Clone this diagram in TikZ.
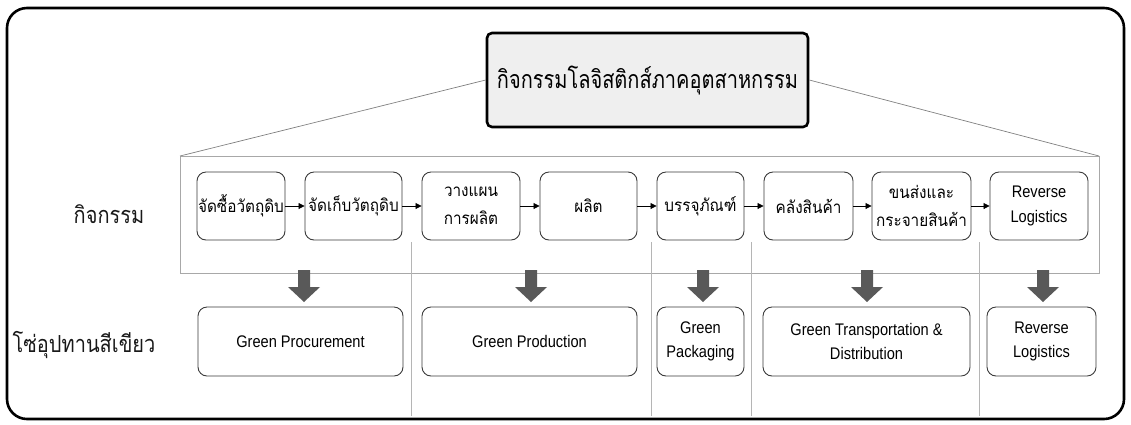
\documentclass[tikz,border=0pt]{standalone}
\usepackage{fontspec}
\setmainfont{Liberation Sans}[FakeStretch=0.87]
\newfontfamily\thai[Script=Thai,FakeStretch=0.9]{Loma}
\newfontfamily\thaititle[Script=Thai,FakeStretch=0.8]{Loma}
\newfontfamily\thailabel[Script=Thai,FakeStretch=0.85]{Loma}
\usetikzlibrary{arrows.meta}
\definecolor{boxline}{HTML}{3A3A3A}
\definecolor{frameline}{HTML}{A8A8A8}
\definecolor{arrowfill}{HTML}{595959}
\definecolor{titlefill}{HTML}{EFEFEF}
\begin{document}
\begin{tikzpicture}[x=1pt,y=-1pt,
  actbox/.style={draw=boxline,line width=0.9pt,rounded corners=9pt,align=center,
    minimum height=68pt,inner sep=1pt,font=\thai\fontsize{17}{28}\selectfont},
  greenbox/.style={draw=boxline,line width=0.9pt,rounded corners=9pt,align=center,
    minimum height=69pt,inner sep=1pt,font=\fontsize{16.8}{24}\selectfont},
  flow/.style={line width=0.8pt,-{Triangle[length=6pt,width=6pt]}},
  guide/.style={draw=frameline,line width=0.8pt},
  rowlabel/.style={font=\thailabel\fontsize{23.5}{28}\selectfont,text=black!90},
  pics/blockarrow/.style={code={
    \fill[arrowfill] (-6,0) -- (6,0) -- (6,17) -- (16,17) -- (0,32) -- (-16,17) -- (-6,17) -- cycle;}}]
\useasboundingbox (0,0) rectangle (1131,424);

% outer frame
\draw[line width=2.6pt,rounded corners=20pt] (7,8) rectangle (1124,419);

% activity band and the guides dividing the columns
\draw[guide] (180,156) rectangle (1099,273);
\foreach \xx in {411,651,751,979}
  \draw[draw=frameline!85,line width=0.7pt] (\xx,242) -- (\xx,416);

% heading
\node[draw=black,line width=2.6pt,fill=titlefill,rounded corners=5pt,
  minimum width=321pt,minimum height=94pt,inner sep=0pt,
  font=\thaititle\fontsize{25}{30}\selectfont] (title) at (647.5,80) {กิจกรรมโลจิสติกส์ภาคอุตสาหกรรม};
\coordinate (bandL) at (180,156);
\coordinate (bandR) at (1099,156);
\draw[draw=gray,line width=0.7pt] (title.west) -- (bandL);
\draw[draw=gray,line width=0.7pt] (title.east) -- (bandR);

% row labels
\node[rowlabel] (lblact) at (109,214) {กิจกรรม};
\node[rowlabel] (lblgreen) at (84,345) {โซ่อุปทานสีเขียว};

% logistics activities
\node[actbox,minimum width=88pt] (t1) at (241,206) {จัดซื้อวัตถุดิบ};
\node[actbox,minimum width=97pt] (t2) at (353.5,206) {จัดเก็บวัตถุดิบ};
\node[actbox,minimum width=98pt] (t3) at (471,206) {วางแผน\\การผลิต};
\node[actbox,minimum width=97pt] (t4) at (588.5,206) {ผลิต};
\node[actbox,minimum width=87pt] (t5) at (700.5,206) {บรรจุภัณฑ์};
\node[actbox,minimum width=89pt] (t6) at (808.5,206) {คลังสินค้า};
\node[actbox,minimum width=99pt] (t7) at (921.5,206) {ขนส่งและ\\กระจายสินค้า};
\node[actbox,minimum width=98pt,font=\fontsize{16.8}{25}\selectfont] (t8) at (1039,206) {Reverse\\Logistics};
\foreach \a/\b in {t1/t2,t2/t3,t3/t4,t4/t5,t5/t6,t6/t7,t7/t8}
  \draw[flow] (\a) -- (\b);

% green supply chain
\node[greenbox,minimum width=205pt] (g1) at (300.5,341.5) {Green Procurement};
\node[greenbox,minimum width=215pt] (g2) at (529.5,341.5) {Green Production};
\node[greenbox,minimum width=87pt] (g3) at (700.5,341.5) {Green\\Packaging};
\node[greenbox,minimum width=207pt] (g4) at (866.5,341.5) {Green Transportation \&\\Distribution};
\node[greenbox,minimum width=109pt] (g5) at (1041.5,341.5) {Reverse\\Logistics};

% block arrows from the band down to each group
\pic at (304,270) {blockarrow};
\pic at (531,270) {blockarrow};
\pic at (703,270) {blockarrow};
\pic at (867,270) {blockarrow};
\pic at (1043,270) {blockarrow};
\end{tikzpicture}
\end{document}
